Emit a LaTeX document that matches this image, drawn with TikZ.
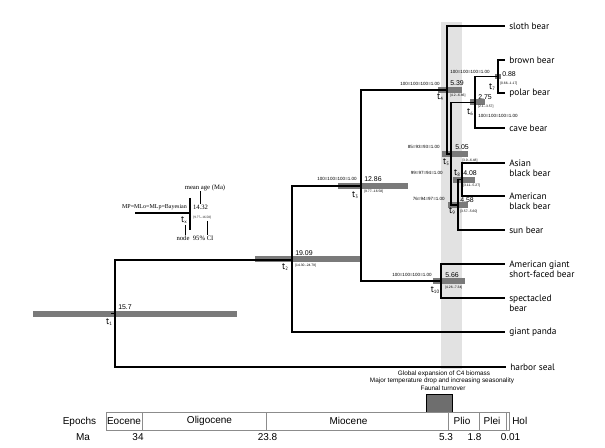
\documentclass[tikz,border=0pt]{standalone}
\usepackage{fontspec}
\newfontfamily\tipf{PT Sans}
\newfontfamily\axf{Liberation Sans}
\newfontfamily\legf{Liberation Serif}
\definecolor{barg}{RGB}{122,122,122}
\definecolor{colg}{RGB}{226,226,226}
\definecolor{boxg}{RGB}{140,140,140}
\definecolor{turn}{RGB}{110,110,110}
\newcommand\tk[1]{t\raisebox{-0.9pt}{\fontsize{3.6}{4}\selectfont #1}}
\begin{document}
\begin{tikzpicture}[x=0.75pt,y=-0.75pt,
  br/.style={line width=1pt},
  tip/.style={font=\tipf\fontsize{7}{7.6}\selectfont, anchor=west, inner xsep=3pt, inner ysep=0.5pt, align=left},
  val/.style={font=\axf\fontsize{5.2}{5.8}\selectfont, inner sep=0pt, anchor=west},
  ci/.style={font=\axf\fontsize{2.5}{3}\selectfont, inner sep=0pt, anchor=west},
  sup/.style={font=\axf\fontsize{3.4}{4}\selectfont, inner sep=0pt},
  tlab/.style={font=\tipf\fontsize{7}{8}\selectfont, inner sep=0pt},
  leg/.style={font=\legf\fontsize{5}{6}\selectfont, inner sep=0pt},
  ep/.style={font=\axf\fontsize{7.5}{8}\selectfont, inner sep=0pt},
  note/.style={font=\axf\fontsize{4.8}{5.5}\selectfont, inner sep=0pt},
]
\useasboundingbox (0,0) rectangle (605,448);
\fill[white] (0,0) rectangle (605,448);
% shaded column
\fill[colg] (441,22) rectangle (462,369);
% age bars
\fill[barg] (33,311) rectangle (237,317);
\fill[barg] (255,256) rectangle (362,262);
\fill[barg] (338,183) rectangle (408,189);
\fill[barg] (438,87) rectangle (462,93);
\fill[barg] (442,151) rectangle (468,157);
\fill[barg] (470,99.5) rectangle (485,105.5);
\fill[barg] (495,74) rectangle (501,79);
\fill[barg] (453,177) rectangle (475,183);
\fill[barg] (448,202) rectangle (468,208);
\fill[barg] (433,278) rectangle (465,284);
% internal nodes
\coordinate (root) at (111,313.5);
\coordinate (n1) at (115,313.5);
\coordinate (n2) at (292,260);
\coordinate (n3) at (361,186);
\coordinate (n4) at (447,90);
\coordinate (n5) at (451,154);
\coordinate (n6) at (475,102.5);
\coordinate (n7) at (498,76.5);
\coordinate (n8) at (462,179.5);
\coordinate (n9) at (458,205);
\coordinate (n10) at (441,281);
% tips
\coordinate (sloth) at (505,26);
\coordinate (brown) at (505,60);
\coordinate (polar) at (505,93);
\coordinate (cave) at (505,128);
\coordinate (asian) at (505,163);
\coordinate (amblack) at (505,196);
\coordinate (sun) at (505,230);
\coordinate (agsf) at (505,264);
\coordinate (spect) at (505,298);
\coordinate (panda) at (505,332);
\coordinate (seal) at (506,367);
% branches
\draw[br] (root) -- (n1);
\draw[br] (n1) |- (n2);
\draw[br] (n1) |- (seal);
\draw[br] (n2) |- (n3);
\draw[br] (n2) |- (panda);
\draw[br] (n3) |- (n4);
\draw[br] (n3) |- (n10);
\draw[br] (n4) |- (sloth);
\draw[br] (n4) |- (n5);
\draw[br] (n5) |- (n6);
\draw[br] (n5) |- (n9);
\draw[br] (n6) |- (n7);
\draw[br] (n6) |- (cave);
\draw[br] (n7) |- (brown);
\draw[br] (n7) |- (polar);
\draw[br] (n9) |- (n8);
\draw[br] (n9) |- (sun);
\draw[br] (n8) |- (asian);
\draw[br] (n8) |- (amblack);
\draw[br] (n10) |- (agsf);
\draw[br] (n10) |- (spect);
% tip labels
\node[tip] (tsloth) at (sloth) {sloth bear};
\node[tip] (tbrown) at (brown) {brown bear};
\node[tip] (tpolar) at (polar) {polar bear};
\node[tip] (tcave) at (cave) {cave bear};
\node[tip] (tasian) at (505,168) {Asian\\black bear};
\node[tip] (tamb) at (505,201) {American\\black bear};
\node[tip] (tsun) at (sun) {sun bear};
\node[tip] (tagsf) at (505,269) {American giant\\short-faced bear};
\node[tip] (tspect) at (505,303) {spectacled\\bear};
\node[tip] (tpanda) at (panda) {giant panda};
\node[tip] (tseal) at (seal) {harbor seal};
% mean ages
\node[val] (v1) at (118,307) {15.7};
\node[val] (v2) at (295,253) {19.09};
\node[val] (v3) at (364,179) {12.86};
\node[val] (v4) at (450,83) {5.39};
\node[val] (v5) at (455,147) {5.05};
\node[val] (v6) at (478,97) {2.75};
\node[val] (v7) at (502,74) {0.88};
\node[val] (v8) at (463,173) {4.08};
\node[val] (v9) at (460,200) {4.58};
\node[val] (v10) at (445,275) {5.66};
% confidence intervals
\node[ci] (c2) at (295,266) {[14.30--24.79]};
\node[ci] (c3) at (364,192) {[9.77--16.58]};
\node[ci] (c4) at (450,96) {[4.2--6.86]};
\node[ci] (c5) at (462,161) {[3.9--6.48]};
\node[ci] (c6) at (478,107) {[2.1--3.57]};
\node[ci] (c7) at (500,84) {[0.66--1.17]};
\node[ci] (c8) at (463,186) {[3.11--5.27]};
\node[ci] (c9) at (460,212) {[3.57--5.60]};
\node[ci] (c10) at (445,288) {[4.26--7.34]};
% support values
\node[sup, anchor=east] (s3) at (357,179) {100=100=100=1.00};
\node[sup, anchor=east] (s4) at (440,84) {100=100=100=1.00};
\node[sup, anchor=east] (s5) at (440,147) {85=93=93=1.00};
\node[sup, anchor=east] (s7) at (490,72) {100=100=100=1.00};
\node[sup, anchor=west] (s6) at (478,116) {100=100=100=1.00};
\node[sup, anchor=east] (s8) at (443,173) {99=97=94=1.00};
\node[sup, anchor=east] (s9) at (445,199) {76=94=97=1.00};
\node[sup, anchor=east] (s10) at (432,275) {100=100=100=1.00};
% node names
\node[tlab] (l1) at (109,322) {\tk{1}};
\node[tlab] (l2) at (285,267) {\tk{2}};
\node[tlab] (l3) at (355,195) {\tk{3}};
\node[tlab] (l4) at (440,97) {\tk{4}};
\node[tlab] (l5) at (446,162) {\tk{5}};
\node[tlab] (l6) at (470,112) {\tk{6}};
\node[tlab] (l7) at (492,87) {\tk{7}};
\node[tlab] (l8) at (457,173) {\tk{8}};
\node[tlab] (l9) at (452,211) {\tk{9}};
\node[tlab] (l10) at (435,290) {\tk{10}};
% legend
\coordinate (lgL) at (135,213);
\coordinate (lgN) at (190,213);
\coordinate (lgT) at (190,198);
\coordinate (lgB) at (190,230);
\draw[br] (lgL) -- (lgN);
\draw[line width=1.5pt] (lgT) -- (lgB);
\node[leg] (lmean) at (205,188) {mean age (Ma)};
\node[leg] (l1432) at (200.5,207) {14.32};
\node[leg, font=\legf\fontsize{4.5}{5}\selectfont] (lsup) at (154.5,207) {MP=MLo=MLp=Bayesian};
\node[tlab] (ltx) at (184,220) {\tk{x}};
\node[ci, font=\legf\fontsize{2.5}{3}\selectfont] (lci) at (193,218) {[9.77--16.58]};
\node[leg] (lnode) at (195,238.5) {node\enspace95\% CI};
\draw[line width=0.4pt] (lmean.south -| l1432.north) -- (l1432.north);
\draw[line width=0.4pt] (185,225) -- (185,235);
\draw[line width=0.4pt] (207,221) -- (207,235);
% notes
\node[note] (nt1) at (444,373.5) {Global expansion of C4 biomass};
\node[note] (nt2) at (442,381) {Major temperature drop and increasing seasonality};
\node[note] (nt3) at (443,388.5) {Faunal turnover};
\draw[fill=turn, line width=0.4pt] (426,394) rectangle (452.5,412);
% timeline
\draw[boxg, line width=0.6pt] (106,412) rectangle (509,430);
\foreach \xx in {142,266,448,479,506} \draw[boxg, line width=0.6pt] (\xx,412) -- (\xx,430);
\node[ep] (eEp) at (79.5,422) {Epochs};
\node[ep] (eMa) at (83,437.5) {Ma};
\node[ep] (e1) at (124,421) {Eocene};
\node[ep] (e2) at (209.5,421) {Oligocene};
\node[ep] (e3) at (348.5,421) {Miocene};
\node[ep] (e4) at (462,421) {Plio};
\node[ep] (e5) at (492,421) {Plei};
\node[ep, anchor=west] (e6) at (512,421) {Hol};
\node[ep] (m1) at (138,437.5) {34};
\node[ep] (m2) at (267.5,437.5) {23.8};
\node[ep] (m3) at (446,437.5) {5.3};
\node[ep] (m4) at (474.5,437.5) {1.8};
\node[ep] (m5) at (510.5,437.5) {0.01};
\end{tikzpicture}
\end{document}
